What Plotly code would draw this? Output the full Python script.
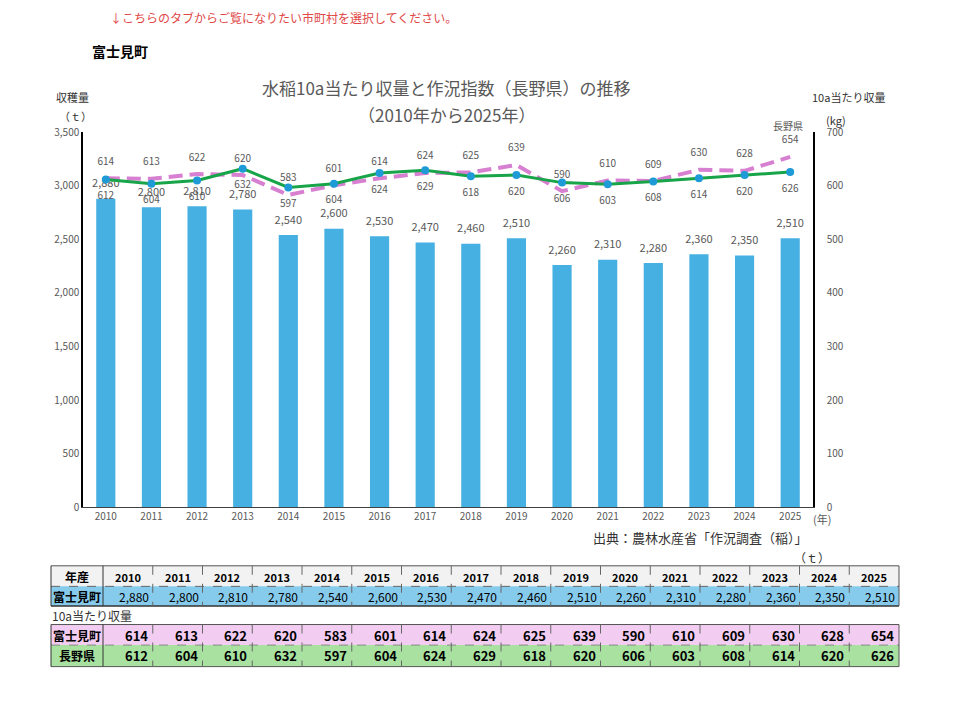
import plotly.graph_objects as go

years = [2010, 2011, 2012, 2013, 2014, 2015, 2016, 2017, 2018, 2019, 2020, 2021, 2022, 2023, 2024, 2025]
harvest_t = [2880, 2800, 2810, 2780, 2540, 2600, 2530, 2470, 2460, 2510, 2260, 2310, 2280, 2360, 2350, 2510]
fujimi_kg = [614, 613, 622, 620, 583, 601, 614, 624, 625, 639, 590, 610, 609, 630, 628, 654]
nagano_kg = [612, 604, 610, 632, 597, 604, 624, 629, 618, 620, 606, 603, 608, 614, 620, 626]

W, H = 960, 701
FONT = "Noto Sans CJK JP"
GRAY = "#595959"
CLEAR = "rgba(0,0,0,0)"


def px(x):
    return x / W


def py(y):
    return 1 - y / H


fig = go.Figure()

fig.add_trace(go.Bar(
    x=years, y=harvest_t, marker=dict(color="#45b0e1", line=dict(width=0)),
    yaxis="y", name="収穫量", hoverinfo="skip"))

fig.add_trace(go.Scatter(
    x=years, y=fujimi_kg, mode="lines", yaxis="y2",
    line=dict(color="#d77fd0", width=4, dash="14px,7px"), name="富士見町"))

fig.add_trace(go.Scatter(
    x=years, y=nagano_kg, mode="lines+markers", yaxis="y2",
    line=dict(color="#18a449", width=3),
    marker=dict(color="#1e9bd7", size=8), name="長野県"))

# data labels
fig.add_trace(go.Scatter(
    x=years, y=harvest_t, mode="markers+text", yaxis="y",
    marker=dict(color=CLEAR, size=12),
    text=[f"{v:,}" for v in harvest_t], textposition="top center",
    textfont=dict(size=11, color=GRAY, family=FONT), cliponaxis=False, hoverinfo="skip"))
fig.add_trace(go.Scatter(
    x=years, y=fujimi_kg, mode="markers+text", yaxis="y2",
    marker=dict(color=CLEAR, size=16),
    text=[str(v) for v in fujimi_kg], textposition="top center",
    textfont=dict(size=10, color=GRAY, family=FONT), cliponaxis=False, hoverinfo="skip"))
fig.add_trace(go.Scatter(
    x=years, y=nagano_kg, mode="markers+text", yaxis="y2",
    marker=dict(color=CLEAR, size=18),
    text=[str(v) for v in nagano_kg], textposition="bottom center",
    textfont=dict(size=10, color=GRAY, family=FONT), cliponaxis=False, hoverinfo="skip"))

fig.update_layout(
    width=W, height=H, margin=dict(l=0, r=0, t=0, b=0),
    paper_bgcolor="white", plot_bgcolor="white",
    showlegend=False, bargap=0.58,
    font=dict(family=FONT, color=GRAY),
    xaxis=dict(domain=[px(83), px(813)], range=[2009.5, 2025.5], tickmode="array",
               tickvals=years, ticktext=[str(y) for y in years],
               tickfont=dict(size=10, color=GRAY), showgrid=False, zeroline=False,
               showline=True, linecolor="#404040", linewidth=1, ticks=""),
    yaxis=dict(domain=[py(510), py(127)], range=[0, 3500], dtick=500, tickformat=",",
               tickfont=dict(size=10, color=GRAY), showgrid=False, zeroline=False,
               showline=True, linecolor="#000000", linewidth=1.5, ticks=""),
    yaxis2=dict(overlaying="y", side="right", range=[0, 700], dtick=100,
                tickfont=dict(size=10, color=GRAY), showgrid=False, zeroline=False,
                showline=True, linecolor="#000000", linewidth=1.5, ticks="",
                ticklabelstandoff=10),
)

annotations = []
shapes = []


def ann(text, x, y, size, color="#000000", bold=False, xanchor="center", yanchor="middle"):
    if bold:
        text = f"<b>{text}</b>"
    annotations.append(dict(text=text, x=px(x), y=py(y), xref="paper", yref="paper",
                            xanchor=xanchor, yanchor=yanchor, showarrow=False,
                            font=dict(size=size, color=color, family=FONT)))


# header texts
ann("↓こちらのタブからご覧になりたい市町村を選択してください。", 108, 10, 12, "#e04848", xanchor="left")
ann("富士見町", 90, 44, 14, "#000000", bold=True, xanchor="left")
ann("水稲10a当たり収量と作況指数（長野県）の推移", 446, 81, 17, GRAY)
ann("（2010年から2025年）", 446, 109, 17, GRAY)
ann("収穫量", 72, 91, 11, "#333333")
ann("（ｔ）", 75, 110, 11, "#333333")
ann("10a当たり収量", 848, 91, 11, "#333333")
ann("(kg)", 836, 114, 11, "#333333")
ann("長野県", 788, 120, 10, GRAY)
ann("(年)", 822, 522, 11, GRAY)
ann("出典：農林水産省「作況調査（稲）」", 700, 541, 13, "#333333")
ann("（ｔ）", 812, 562, 12, "#333333")
ann("10a当たり収量", 50, 621, 12, "#333333", xanchor="left")

# table
X0, C0W = 51, 52
XEND = 899
CW = (XEND - (X0 + C0W)) / len(years)
col_x = [X0 + C0W + i * CW for i in range(len(years) + 1)]


def rect(x0, y0, x1, y1, fill):
    shapes.append(dict(type="rect", xref="paper", yref="paper", x0=px(x0), x1=px(x1),
                       y0=py(y1), y1=py(y0), fillcolor=fill, line=dict(width=0), layer="below"))


def line(x0, y0, x1, y1, color="#404040", width=1, dash="solid"):
    shapes.append(dict(type="line", xref="paper", yref="paper", x0=px(x0), x1=px(x1),
                       y0=py(y0), y1=py(y1), line=dict(color=color, width=width, dash=dash)))


rows = [
    (570, 591, "#f2f2f2"),
    (591, 611, "#86cbec"),
    (630, 651, "#f3cdf1"),
    (651, 673, "#a9e2a0"),
]
for y0, y1, c in rows:
    rect(X0, y0, XEND, y1, c)

# table 1 borders
line(X0, 570, XEND, 570, "#555555", 1)
line(X0, 591, XEND, 591, "#666666", 1, "dash")
line(X0, 611, XEND, 611, "#333333", 1.5)
line(X0, 570, X0, 611, "#333333", 1)
line(XEND, 570, XEND, 611, "#555555", 1)
line(X0 + C0W, 570, X0 + C0W, 611, "#333333", 1)
for cx in col_x[1:-1]:
    line(cx, 570, cx, 611, "#666666", 1, "dash")

# table 2 borders
line(X0, 630, XEND, 630, "#555555", 1)
line(X0, 651, XEND, 651, "#888888", 1, "dash")
line(X0, 673, XEND, 673, "#555555", 1)
line(X0, 630, X0, 673, "#333333", 1)
line(XEND, 630, XEND, 673, "#555555", 1)
line(X0 + C0W, 630, X0 + C0W, 673, "#333333", 1)
for cx in col_x[1:-1]:
    line(cx, 630, cx, 673, "#666666", 1, "dash")

# table texts
ann("年産", X0 + C0W / 2, 581, 12, "#000000", bold=True)
ann("富士見町", X0 + C0W / 2, 601, 12, "#000000", bold=True)
ann("富士見町", X0 + C0W / 2, 641, 12, "#000000", bold=True)
ann("長野県", X0 + C0W / 2, 662, 12, "#000000", bold=True)
for i, yr in enumerate(years):
    cx0, cx1 = col_x[i], col_x[i + 1]
    ann(str(yr), (cx0 + cx1) / 2, 581, 11, "#000000", bold=True)
    ann(f"{harvest_t[i]:,}", cx1 - 2, 601, 12, "#000000", xanchor="right")
    ann(str(fujimi_kg[i]), cx1 - 3, 641, 13, "#000000", bold=True, xanchor="right")
    ann(str(nagano_kg[i]), cx1 - 3, 662, 13, "#000000", bold=True, xanchor="right")

fig.update_layout(annotations=annotations, shapes=shapes)
fig.write_html("out.html")
